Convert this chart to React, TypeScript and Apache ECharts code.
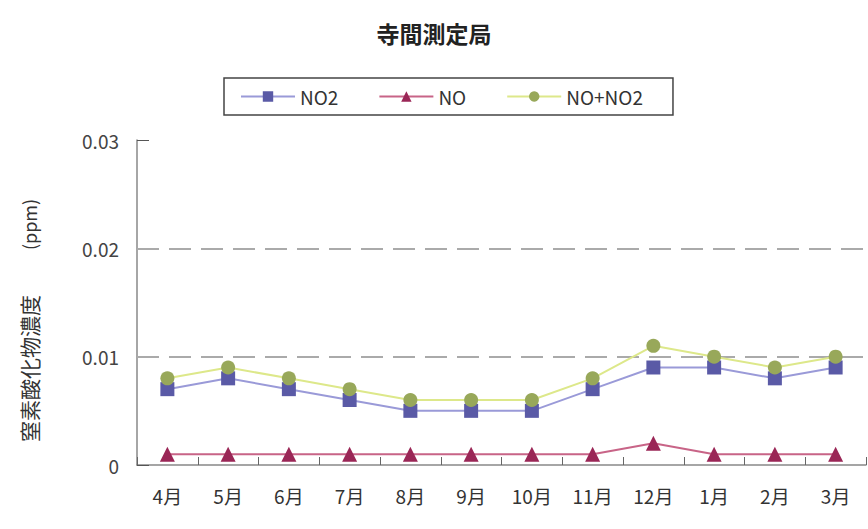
import React, { useEffect, useRef } from "react";
import * as echarts from "echarts";

const months = ["4月", "5月", "6月", "7月", "8月", "9月", "10月", "11月", "12月", "1月", "2月", "3月"];
const no2 = [0.007, 0.008, 0.007, 0.006, 0.005, 0.005, 0.005, 0.007, 0.009, 0.009, 0.008, 0.009];
const no = [0.001, 0.001, 0.001, 0.001, 0.001, 0.001, 0.001, 0.001, 0.002, 0.001, 0.001, 0.001];
const noxTotal = [0.008, 0.009, 0.008, 0.007, 0.006, 0.006, 0.006, 0.008, 0.011, 0.010, 0.009, 0.010];
const yTicks = [0, 0.01, 0.02, 0.03];
const gridLevels = [0.01, 0.02];

const FONT = "'Noto Sans CJK JP', 'Noto Sans', sans-serif";

export default function App() {
  const ref = useRef<HTMLDivElement>(null);
  useEffect(() => {
    const chart = echarts.init(ref.current!, undefined, { renderer: "svg" });
    chart.setOption({
      animation: false,
      backgroundColor: "#ffffff",
      title: {
        text: "寺間測定局",
        left: "center",
        top: 16,
        textStyle: { fontFamily: FONT, fontSize: 23, fontWeight: "bold", color: "#222" },
      },
      legend: {
        top: 78,
        left: 224,
        width: 448,
        height: 39,
        padding: [9, 30, 9, 16],
        itemGap: 40,
        itemWidth: 54,
        itemHeight: 13,
        borderColor: "#444",
        borderWidth: 1.5,
        textStyle: { fontFamily: FONT, fontSize: 19, color: "#333" },
        data: ["NO2", "NO", "NO+NO2"],
      },
      grid: { left: 137, right: 2, top: 140, bottom: 64, containLabel: false },
      xAxis: {
        type: "category",
        data: months,
        boundaryGap: true,
        axisLine: { lineStyle: { color: "#888", width: 1.5 } },
        axisTick: { show: true, inside: true, length: 8, lineStyle: { color: "#666" } },
        axisLabel: { fontFamily: FONT, fontSize: 19, color: "#333", margin: 21 },
      },
      yAxis: {
        type: "value",
        min: 0,
        max: 0.03,
        interval: 0.01,
        name: "窒素酸化物濃度{g|}{s|(ppm)}",
        nameLocation: "middle",
        nameGap: 98,
        nameRotate: 90,
        nameTextStyle: {
          fontFamily: FONT,
          fontSize: 21,
          color: "#333",
          padding: [0, 36, 0, 0],
          rich: {
            g: { width: 45 },
            s: { fontFamily: FONT, fontSize: 18, color: "#333" },
          },
        },
        axisLine: { show: true, lineStyle: { color: "#888", width: 1.5 } },
        axisTick: { show: true, inside: true, length: 12, lineStyle: { color: "#555" } },
        axisLabel: {
          fontFamily: FONT,
          fontSize: 19,
          color: "#444",
          margin: 18,
          formatter: (v: number) => {
            const t = yTicks.find((x) => Math.abs(x - v) < 1e-9);
            return t === 0 ? "0" : (t ?? v).toFixed(2);
          },
        },
        splitLine: { show: false },
      },
      series: [
        {
          name: "NO2",
          type: "line",
          data: no2,
          symbol: "rect",
          symbolSize: 14,
          lineStyle: { color: "#9a9ad8", width: 2 },
          itemStyle: { color: "#5a5aa6" },
          z: 3,
          markLine: {
            silent: true,
            symbol: "none",
            label: { show: false },
            lineStyle: { color: "#aaa", type: [22, 10], width: 2 },
            data: gridLevels.map((v) => ({ yAxis: v })),
            z: 1,
          },
        },
        {
          name: "NO",
          type: "line",
          data: no,
          symbol: "triangle",
          symbolSize: 15,
          lineStyle: { color: "#c86487", width: 2 },
          itemStyle: { color: "#9a2656" },
          z: 3,
        },
        {
          name: "NO+NO2",
          type: "line",
          data: noxTotal,
          symbol: "circle",
          symbolSize: 14,
          lineStyle: { color: "#dde88a", width: 2 },
          itemStyle: { color: "#98a85a" },
          z: 4,
        },
      ],
    });
    return () => chart.dispose();
  }, []);
  return (
    <div
      ref={ref}
      style={{ position: "fixed", left: 0, top: 0, width: 868, height: 529 }}
    />
  );
}
